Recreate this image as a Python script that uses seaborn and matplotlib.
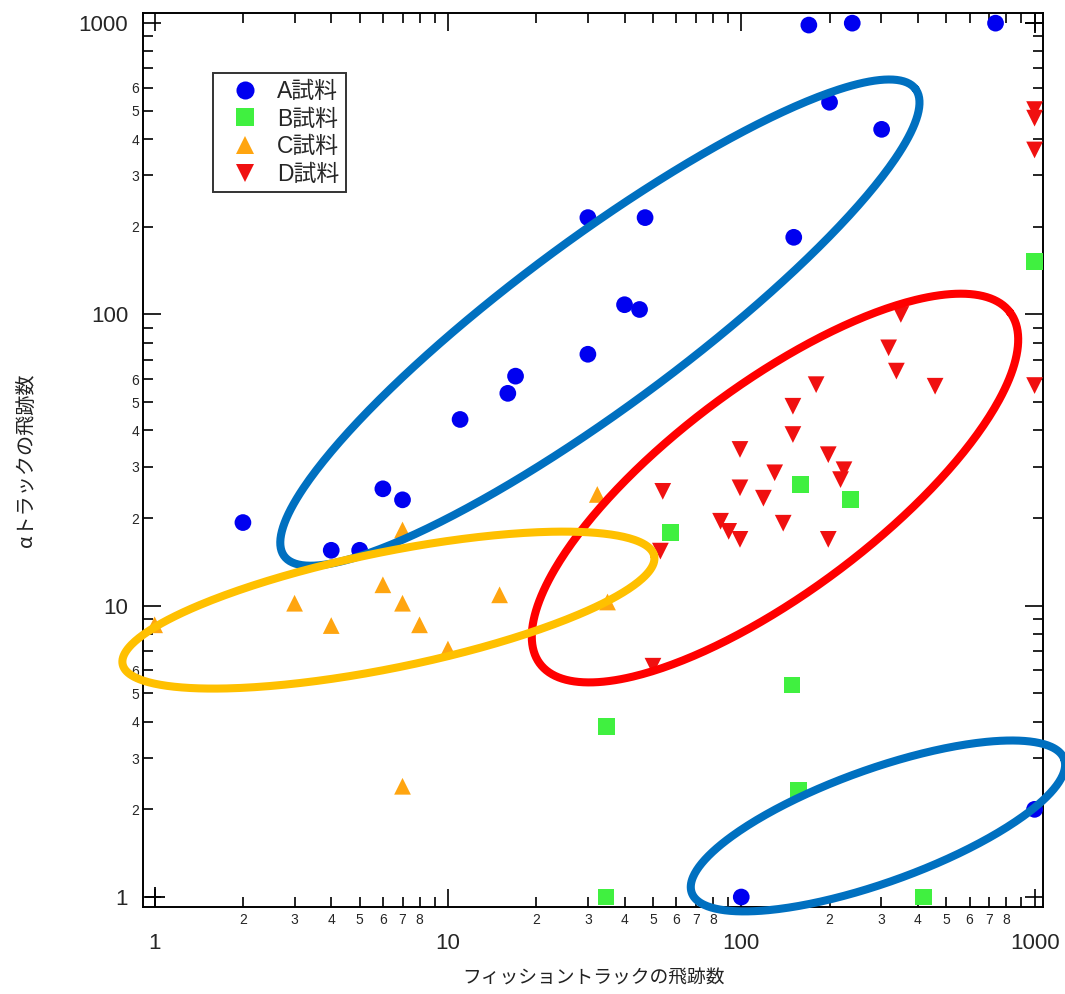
import numpy as np
import pandas as pd
import matplotlib
matplotlib.use("Agg")
import matplotlib.pyplot as plt
import matplotlib.ticker as mticker
import seaborn as sns

# --- data ---
a_x = [2, 4, 5, 6, 7, 11, 16, 17, 30, 30, 47, 40, 45, 151, 170, 239, 736, 200, 301, 100, 1000]
a_y = [19.3, 15.5, 15.5, 25.2, 23.1, 43.6, 53.6, 61.4, 73, 215, 215, 108, 104, 184, 985, 1000, 1000, 535, 432, 1, 2]

b_x = [159, 236, 57.4, 149, 34.8, 1000, 157, 34.6, 418]
b_y = [26, 23.1, 17.8, 5.35, 3.85, 152, 2.33, 1, 1]

c_x = [1, 3, 4, 6, 7, 7, 8, 10, 15, 7, 32.3, 35]
c_y = [8.6, 10.2, 8.55, 11.8, 10.2, 18.2, 8.6, 7.1, 10.9, 2.4, 24.1, 10.3]

d_x = [350, 318, 338, 458, 180, 150, 150, 99, 198, 224, 218, 130, 99, 119, 54, 85, 90.6, 99,
       139, 198, 53, 50, 1000, 1000, 1000, 1000]
d_y = [100, 76.8, 63.9, 56.7, 57.4, 48.4, 38.7, 34.4, 33, 29.3, 27.1, 28.6, 25.4, 23.4, 24.7,
       19.5, 18, 16.9, 19.2, 16.9, 15.4, 6.2, 505, 472, 367, 57]

samples = ["A試料", "B試料", "C試料", "D試料"]
colors = ["#0000F0", "#40F040", "#FFA510", "#F01010"]
markers = ["o", "s", "^", "v"]

# hand-drawn group outlines: centre (log10 x, log10 y), semi-axes (decades), angle (deg)
ell_cx = [1.518, 2.115, 0.797, 2.466]
ell_cy = [1.972, 1.404, 0.985, 0.244]
ell_a = [1.342, 1.003, 0.925, 0.675]
ell_b = [0.288, 0.356, 0.199, 0.194]
ell_ang = [36.7, 37.0, 11.6, 19.9]
ell_col = ["#0070C0", "#FF0000", "#FFC000", "#0070C0"]

df = pd.concat([
    pd.DataFrame({"x": xs, "y": ys, "sample": s})
    for xs, ys, s in zip([a_x, b_x, c_x, d_x], [a_y, b_y, c_y, d_y], samples)
], ignore_index=True)

sns.set_theme(style="white")
plt.rcParams["font.family"] = ["Liberation Sans", "Noto Sans CJK JP", "DejaVu Sans"]

fig = plt.figure(figsize=(10.65, 9.94), dpi=100)
ax = fig.add_axes([0.1347, 0.0875, 0.8446, 0.8997])

sns.scatterplot(
    data=df, x="x", y="y", hue="sample", style="sample",
    hue_order=samples, style_order=samples,
    palette=dict(zip(samples, colors)), markers=dict(zip(samples, markers)),
    s=145, linewidth=0, edgecolor="none", ax=ax, zorder=3, clip_on=False,
)

ax.set_xscale("log")
ax.set_yscale("log")
ax.set_xlim(0.916, 1068)
ax.set_ylim(0.924, 1086)

# outlines
t = np.linspace(0, 2 * np.pi, 400)
for cx, cy, a, b, ang, col in zip(ell_cx, ell_cy, ell_a, ell_b, ell_ang, ell_col):
    th = np.deg2rad(ang)
    lx = cx + a * np.cos(t) * np.cos(th) - b * np.sin(t) * np.sin(th)
    ly = cy + a * np.cos(t) * np.sin(th) + b * np.sin(t) * np.cos(th)
    ax.plot(10 ** lx, 10 ** ly, color=col, lw=5.8, clip_on=False, zorder=4)

# corner crosses of the plotting software
majors = [1, 10, 100, 1000]
ax.plot([majors[0], majors[-1]], [majors[0], majors[-1]], "+", color="black",
        ms=14, mew=1.3, ls="none", zorder=5)

# ticks
minor_vals = [m * 10 ** e for e in range(-1, 4) for m in range(2, 10)]
ax.xaxis.set_major_locator(mticker.FixedLocator(majors))
ax.yaxis.set_major_locator(mticker.FixedLocator(majors))
ax.xaxis.set_minor_locator(mticker.FixedLocator(minor_vals))
ax.yaxis.set_minor_locator(mticker.FixedLocator(minor_vals))

major_fmt = mticker.FuncFormatter(lambda v, p: f"{int(round(v))}")


def minor_fmt(keep):
    def f(v, p):
        m = int(round(v / 10 ** np.floor(np.log10(v) + 1e-9)))
        return str(m) if m in keep else ""
    return mticker.FuncFormatter(f)


ax.xaxis.set_major_formatter(major_fmt)
ax.yaxis.set_major_formatter(major_fmt)
ax.xaxis.set_minor_formatter(minor_fmt({2, 3, 4, 5, 6, 7, 8}))
ax.yaxis.set_minor_formatter(minor_fmt({2, 3, 4, 5, 6}))

ax.tick_params(which="both", direction="in", top=True, right=True, bottom=True, left=True,
               color="black", width=1.2)
ax.tick_params(which="major", length=13)
ax.tick_params(which="minor", length=7)
ax.tick_params(axis="x", which="major", labelsize=16, pad=19)
ax.tick_params(axis="x", which="minor", labelsize=10, pad=4)
ax.tick_params(axis="y", which="major", labelsize=16, pad=11)
ax.tick_params(axis="y", which="minor", labelsize=10, pad=3)

for sp in ax.spines.values():
    sp.set_color("black")
    sp.set_linewidth(1.4)

ax.set_xlabel("フィッショントラックの飛跡数", fontsize=13.5, color="#222222",
              family=["Noto Sans CJK JP", "DejaVu Sans"])
ax.set_ylabel("αトラックの飛跡数", fontsize=14.5, color="#222222",
              family=["Noto Sans CJK JP", "DejaVu Sans"])
ax.xaxis.set_label_coords(0.5, -0.068)
ax.yaxis.set_label_coords(-0.118, 0.5)

handles, labels = ax.get_legend_handles_labels()
leg = ax.legend(handles, labels, loc="upper left", bbox_to_anchor=(0.0773, 0.9326),
                borderaxespad=0, frameon=True, fancybox=False, fontsize=16.5,
                markerscale=1.08, handletextpad=0.3, labelspacing=0.2,
                borderpad=0.3, handlelength=2.2)
leg.get_frame().set_edgecolor("black")
leg.get_frame().set_linewidth(1.4)

fig.savefig("out.png", dpi=100)
